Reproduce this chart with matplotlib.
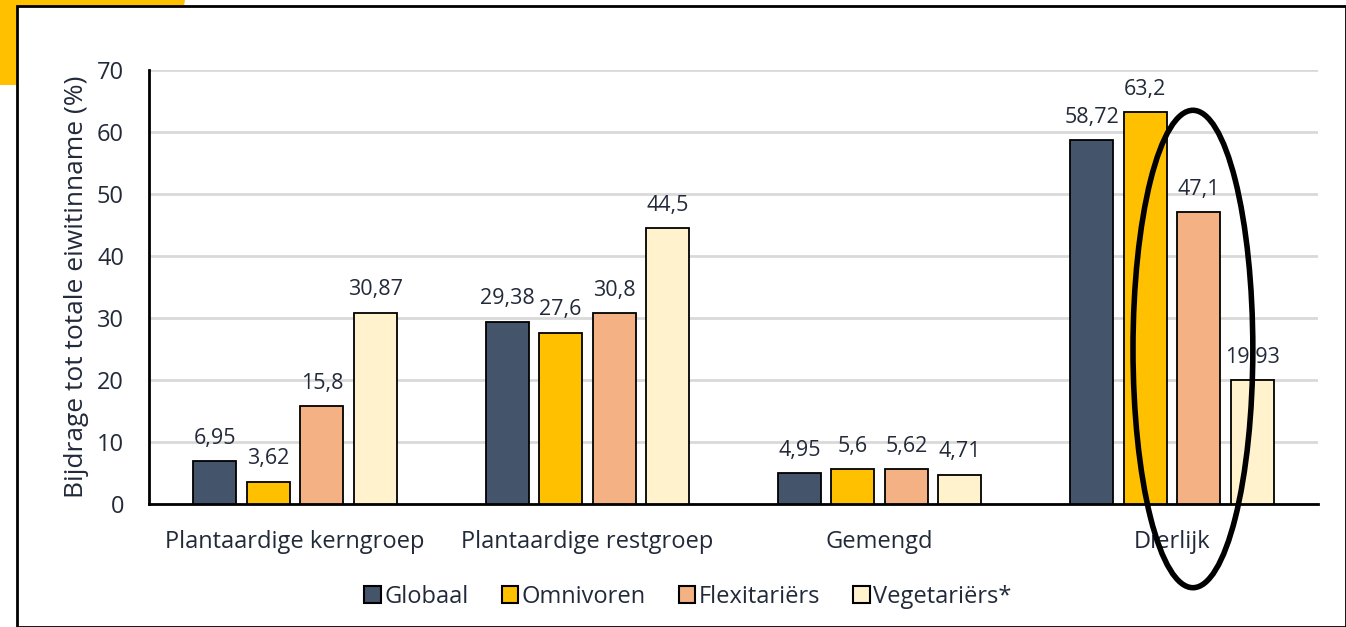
import numpy as np
import matplotlib.pyplot as plt
from matplotlib.patches import Ellipse, Polygon, Patch

plt.rcParams["font.family"] = ["Open Sans", "DejaVu Sans"]

categories = ["Plantaardige kerngroep", "Plantaardige restgroep", "Gemengd", "Dierlijk"]
groups = ["Globaal", "Omnivoren", "Flexitariërs", "Vegetariërs*"]
globaal = [6.95, 29.38, 4.95, 58.72]
omnivoren = [3.62, 27.6, 5.6, 63.2]
flexitariers = [15.8, 30.8, 5.62, 47.1]
vegetariers = [30.87, 44.5, 4.71, 19.93]
labels = [
    ["6,95", "29,38", "4,95", "58,72"],
    ["3,62", "27,6", "5,6", "63,2"],
    ["15,8", "30,8", "5,62", "47,1"],
    ["30,87", "44,5", "4,71", "19,93"],
]
colors = ["#44546a", "#ffc000", "#f4b183", "#fff2cc"]
text_col = "#222a3a"

fig = plt.figure(figsize=(13.46, 6.27), dpi=100)

# yellow tab and black frame behind the chart
fig.patches.append(Polygon([[0, 1], [185 / 1346, 1], [170 / 1346, 1 - 85 / 627], [0, 1 - 85 / 627]],
                           closed=True, transform=fig.transFigure, facecolor="#ffc000",
                           edgecolor="none", zorder=0))
fig.patches.append(Polygon([[17 / 1346, 0], [17 / 1346, 1 - 6 / 627], [1, 1 - 6 / 627], [1, 0]],
                           closed=True, transform=fig.transFigure, facecolor="white",
                           edgecolor="black", linewidth=2, zorder=1))

ax = fig.add_axes([149 / 1346, 1 - 504 / 627, (1318 - 149) / 1346, (504 - 70) / 627])
ax.set_zorder(2)
ax.patch.set_alpha(0)

x = np.arange(len(categories))
width = 0.147
step = 0.183
series = [globaal, omnivoren, flexitariers, vegetariers]
for i, vals in enumerate(series):
    pos = x + (i - 1.5) * step
    ax.bar(pos, vals, width, color=colors[i], edgecolor="black", linewidth=1.3, zorder=3)
    for px, v, lab in zip(pos, vals, labels[i]):
        ax.text(px, v + 2.0, lab, ha="center", va="bottom", fontsize=15.5, color=text_col)

ax.set_xlim(-0.5, 3.5)
ax.set_ylim(0, 70)
ax.set_yticks(range(0, 71, 10))
ax.yaxis.grid(True, color="#d9d9d9", linewidth=2)
ax.set_axisbelow(True)
ax.set_xticks(x)
ax.set_xticklabels(categories, fontsize=17, color=text_col)
ax.tick_params(axis="y", labelsize=17, labelcolor=text_col, length=0, pad=18)
ax.tick_params(axis="x", length=0, pad=19)
for s in ["top", "right"]:
    ax.spines[s].set_visible(False)
for s in ["left", "bottom"]:
    ax.spines[s].set_linewidth(2)
ax.set_ylabel("Bijdrage tot totale eiwitinname (%)", fontsize=19, color=text_col, labelpad=6)

# highlight around the animal group
ax.add_patch(Ellipse((3.072, 25), 0.41, 77, fill=False, edgecolor="black", linewidth=4,
                     clip_on=False, zorder=5))

handles = [Patch(facecolor=c, edgecolor="black", linewidth=1.5) for c in colors]
fig.legend(handles, groups, loc="center", bbox_to_anchor=(688 / 1346, 1 - 597 / 627), ncol=4,
           frameon=False, fontsize=17, handlelength=0.7, handleheight=0.7,
           handletextpad=0.15, columnspacing=1.4, labelcolor=text_col)

fig.savefig("out.png", dpi=100)
